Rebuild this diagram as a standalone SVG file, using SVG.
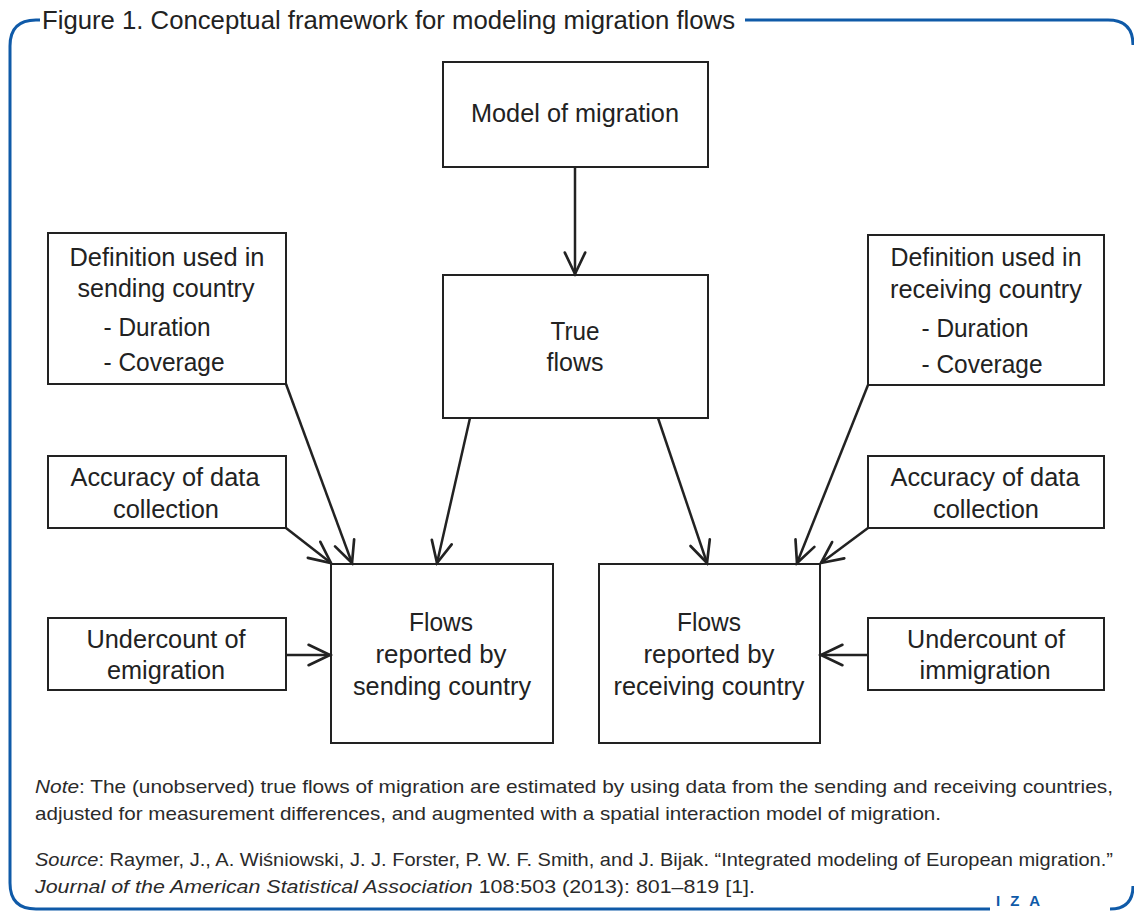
<svg xmlns="http://www.w3.org/2000/svg" width="1134" height="911" viewBox="0 0 1134 911">
<style>
.frame{fill:none;stroke:#0f5aa8;stroke-width:3}
.box rect{fill:#fff;stroke:#222;stroke-width:2}
.box text{font-family:"Liberation Sans",Arial,sans-serif;font-size:25px;fill:#222;text-anchor:middle}
.conn line{stroke:#222;stroke-width:2.5}
.title{font-family:"Liberation Sans",Arial,sans-serif;font-size:25px;fill:#222}
.note{font-family:"Liberation Sans",Arial,sans-serif;font-size:19px;fill:#2a2a2a}
.iza{font-family:"Liberation Sans",Arial,sans-serif;font-size:15px;font-weight:bold;fill:#0f5aa8}
</style>
<defs>
<marker id="arr" markerUnits="userSpaceOnUse" markerWidth="30" markerHeight="30" viewBox="-24 -13 28 26" refX="0" refY="0" orient="auto">
<path d="M -20 -9.5 L 0 0 L -20 9.5" fill="none" stroke="#222" stroke-width="2.5" stroke-linecap="round" stroke-linejoin="miter"/>
</marker>
</defs>
<rect width="1134" height="911" fill="#fff"/>
<path class="frame" d="M 40 20 L 36 20 Q 10 20 10 46 L 10 883 Q 10 909 36 909 L 990 909"/>
<path class="frame" d="M 745 20 L 1108 20 Q 1133 20 1133 45"/>
<path class="frame" d="M 1110 909 Q 1133 909 1133 886"/>
<text class="title" x="42" y="29" textLength="693" lengthAdjust="spacingAndGlyphs">Figure 1. Conceptual framework for modeling migration flows</text>

<g id="model" class="box"><rect x="443" y="62" width="265" height="105"/><text x="575" y="122" textLength="208" lengthAdjust="spacingAndGlyphs">Model of migration</text></g>
<g id="true" class="box"><rect x="443" y="275" width="265" height="143"/><text x="575" y="340" textLength="49" lengthAdjust="spacingAndGlyphs">True</text><text x="575" y="371" textLength="57" lengthAdjust="spacingAndGlyphs">flows</text></g>
<g id="defsend" class="box"><rect x="48" y="233" width="238" height="151"/><text x="167" y="266" textLength="195" lengthAdjust="spacingAndGlyphs">Definition used in</text><text x="166" y="297" textLength="177" lengthAdjust="spacingAndGlyphs">sending country</text><text x="157" y="336" textLength="107" lengthAdjust="spacingAndGlyphs">- Duration</text><text x="164" y="371" textLength="121" lengthAdjust="spacingAndGlyphs">- Coverage</text></g>
<g id="accsend" class="box"><rect x="48" y="456" width="238" height="72"/><text x="165" y="486" textLength="189" lengthAdjust="spacingAndGlyphs">Accuracy of data</text><text x="166" y="518" textLength="106" lengthAdjust="spacingAndGlyphs">collection</text></g>
<g id="undsend" class="box"><rect x="48" y="618" width="238" height="72"/><text x="166" y="648" textLength="159" lengthAdjust="spacingAndGlyphs">Undercount of</text><text x="166" y="679" textLength="118" lengthAdjust="spacingAndGlyphs">emigration</text></g>
<g id="flowsend" class="box"><rect x="331" y="564" width="222" height="179"/><text x="441" y="631" textLength="64" lengthAdjust="spacingAndGlyphs">Flows</text><text x="441" y="663" textLength="131" lengthAdjust="spacingAndGlyphs">reported by</text><text x="442" y="695" textLength="178" lengthAdjust="spacingAndGlyphs">sending country</text></g>
<g id="flowrecv" class="box"><rect x="599" y="564" width="221" height="179"/><text x="709" y="631" textLength="64" lengthAdjust="spacingAndGlyphs">Flows</text><text x="709" y="663" textLength="131" lengthAdjust="spacingAndGlyphs">reported by</text><text x="709" y="695" textLength="191" lengthAdjust="spacingAndGlyphs">receiving country</text></g>
<g id="defrecv" class="box"><rect x="868" y="235" width="236" height="150"/><text x="986" y="266" textLength="191" lengthAdjust="spacingAndGlyphs">Definition used in</text><text x="986" y="298" textLength="192" lengthAdjust="spacingAndGlyphs">receiving country</text><text x="975" y="337" textLength="107" lengthAdjust="spacingAndGlyphs">- Duration</text><text x="982" y="373" textLength="121" lengthAdjust="spacingAndGlyphs">- Coverage</text></g>
<g id="accrecv" class="box"><rect x="868" y="456" width="236" height="72"/><text x="985" y="486" textLength="189" lengthAdjust="spacingAndGlyphs">Accuracy of data</text><text x="986" y="518" textLength="106" lengthAdjust="spacingAndGlyphs">collection</text></g>
<g id="undrecv" class="box"><rect x="868" y="618" width="236" height="72"/><text x="986" y="648" textLength="158" lengthAdjust="spacingAndGlyphs">Undercount of</text><text x="985" y="679" textLength="131" lengthAdjust="spacingAndGlyphs">immigration</text></g>

<g id="connectors" class="conn">
<line x1="575" y1="167" x2="575" y2="274" marker-end="url(#arr)"/>
<line x1="286" y1="384" x2="352" y2="563" marker-end="url(#arr)"/>
<line x1="286" y1="528" x2="331" y2="563" marker-end="url(#arr)"/>
<line x1="470" y1="418" x2="437" y2="563" marker-end="url(#arr)"/>
<line x1="658" y1="418" x2="707" y2="563" marker-end="url(#arr)"/>
<line x1="868" y1="385" x2="797" y2="563" marker-end="url(#arr)"/>
<line x1="868" y1="528" x2="821" y2="563" marker-end="url(#arr)"/>
<line x1="286" y1="655" x2="330" y2="655" marker-end="url(#arr)"/>
<line x1="868" y1="655" x2="821" y2="655" marker-end="url(#arr)"/>
</g>

<text class="note" x="35" y="793" textLength="1078" lengthAdjust="spacingAndGlyphs"><tspan font-style="italic">Note</tspan>: The (unobserved) true flows of migration are estimated by using data from the sending and receiving countries,</text>
<text class="note" x="35" y="820" textLength="906" lengthAdjust="spacingAndGlyphs">adjusted for measurement differences, and augmented with a spatial interaction model of migration.</text>
<text class="note" x="35" y="866" textLength="1078" lengthAdjust="spacingAndGlyphs"><tspan font-style="italic">Source</tspan>: Raymer, J., A. Wiśniowski, J. J. Forster, P. W. F. Smith, and J. Bijak. “Integrated modeling of European migration.”</text>
<text class="note" x="35" y="893" textLength="720" lengthAdjust="spacingAndGlyphs"><tspan font-style="italic">Journal of the American Statistical Association</tspan> 108:503 (2013): 801–819 [1].</text>
<text class="iza" x="996" y="906" textLength="44" lengthAdjust="spacing">I Z A</text>
</svg>
